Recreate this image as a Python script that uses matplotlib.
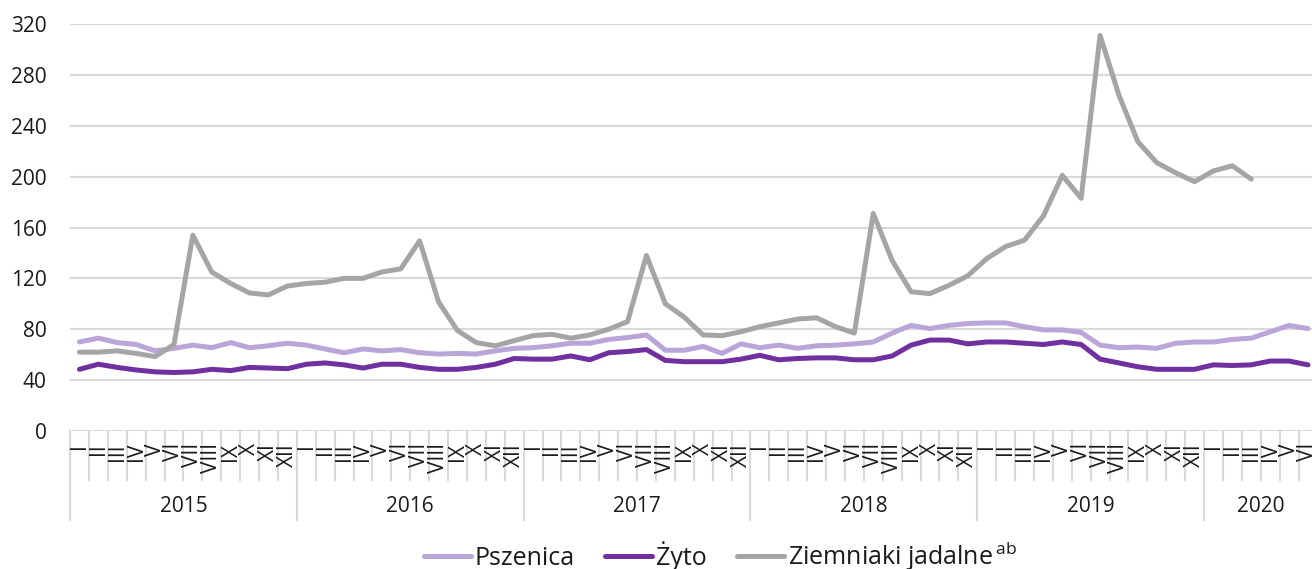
import matplotlib
matplotlib.use('Agg')
import matplotlib.pyplot as plt
from matplotlib.transforms import blended_transform_factory

plt.rcParams['font.family'] = ['Open Sans', 'DejaVu Sans']
plt.rcParams['mathtext.fontset'] = 'custom'
plt.rcParams['mathtext.rm'] = 'Open Sans'

years = ['2015', '2016', '2017', '2018', '2019', '2020']
months_per_year = [12, 12, 12, 12, 12, 6]
month_labels = ['I', 'II', 'III', 'IV', 'V', 'VI', 'VII', 'VIII', 'IX', 'X', 'XI', 'XII']

pszenica = [70, 73, 69.5, 68, 63, 65, 67.5, 65.5, 69.5, 65.5, 67, 69,
            67.5, 64.5, 61.5, 64.5, 63, 64, 61.5, 60.5, 61, 60.5, 63, 65,
            65.5, 67, 69, 69, 72, 73.5, 75.5, 63.5, 63.5, 66.5, 61, 68.5,
            65.5, 67.5, 65, 67, 67.5, 68.5, 70, 77, 83, 80.5, 83, 84.5,
            85, 85, 82, 79.5, 79.5, 77.5, 67.5, 65.5, 66, 65, 69, 70,
            70, 72, 73, 78, 83, 80.5]
zyto = [48.5, 52.5, 50, 48, 46.5, 46, 46.5, 48.5, 47.5, 50, 49.5, 49,
        52.5, 53.5, 52, 49.5, 52.5, 52.5, 50, 48.5, 48.5, 50, 52.5, 57,
        56.5, 56.5, 59, 56, 61.5, 62.5, 64, 55.5, 54.5, 54.5, 54.5, 56.5,
        59.5, 56, 57, 57.5, 57.5, 56, 56, 59, 67.5, 71.5, 71.5, 68.5,
        70, 70, 69, 68, 70, 68, 56.5, 53.5, 50.5, 48.5, 48.5, 48.5,
        52, 51.5, 52, 55, 55, 52]
ziemniaki = [62, 62, 63, 61, 58.5, 68, 154, 125, 116, 108.5, 107, 114,
             116, 117, 120, 120, 125, 127.5, 149.5, 101.5, 79, 69.5, 67, 71,
             75, 76, 73, 75.5, 80, 86, 138, 100, 89.5, 75.5, 75, 78,
             82, 85, 88, 89, 82, 77, 171, 134, 109.5, 108, 114.5, 122,
             135.5, 145, 150, 169, 201, 183, 311, 264, 227.5, 211, 203, 196,
             204.5, 208.5, 198]

c_psz = '#b9a5d8'
c_zyto = '#7030a0'
c_ziem = '#a5a5a5'
grid_c = '#d9d9d9'
txt_c = '#1a1a1a'

W, H = 1312, 569
fig = plt.figure(figsize=(W / 100, H / 100), dpi=100)
slot = 18.9
n = sum(months_per_year)
ax = fig.add_axes([70 / W, (H - 431) / H, n * slot / W, 407 / H])

x_all = list(range(n))
lw = 3.6
l1, = ax.plot(x_all[:len(pszenica)], pszenica, color=c_psz, lw=lw, solid_capstyle='round', solid_joinstyle='round')
l2, = ax.plot(x_all[:len(zyto)], zyto, color=c_zyto, lw=lw, solid_capstyle='round', solid_joinstyle='round')
l3, = ax.plot(x_all[:len(ziemniaki)], ziemniaki, color=c_ziem, lw=lw, solid_capstyle='round', solid_joinstyle='round')

ax.set_xlim(-0.5, n - 0.5)
ax.set_ylim(0, 320)
ax.set_yticks(range(0, 321, 40))
ax.tick_params(axis='y', length=0, pad=17, labelsize=15, labelcolor=txt_c)
ax.set_xticks([])
ax.yaxis.grid(True, color=grid_c, lw=1.5)
ax.set_axisbelow(True)
for s in ax.spines.values():
    s.set_visible(False)

tr = blended_transform_factory(ax.transData, ax.transAxes)
axh = 407.0
def fy(py):
    return (431 - py) / axh

# month separators and labels
k = 0
starts = []
for yi, (yr, nm) in enumerate(zip(years, months_per_year)):
    starts.append(k)
    for m in range(nm):
        idx = k + m
        ax.text(idx, fy(443), month_labels[m], rotation=90, ha='center', va='top',
                fontsize=15, color=txt_c, transform=tr, clip_on=False)
    k += nm
for b in range(n + 1):
    bottom = fy(520) if b in starts or b == n else fy(480)
    ax.plot([b - 0.5, b - 0.5], [0, bottom], color=grid_c, lw=1.5, transform=tr, clip_on=False)
for yr, st, nm in zip(years, starts, months_per_year):
    ax.text(st + (nm - 1) / 2, fy(507), yr, ha='center', va='center', fontsize=15,
            color=txt_c, transform=tr, clip_on=False)

leg = fig.legend([l1, l2, l3], ['Pszenica', 'Żyto', r'Ziemniaki jadalne$^{\,\mathrm{ab}}$'],
                 loc='center', bbox_to_anchor=(0.549, 0.022), ncol=3, frameon=False,
                 fontsize=18, handlelength=1.9, handletextpad=0.15, columnspacing=1.2,
                 borderaxespad=0, borderpad=0)
for t in leg.get_texts():
    t.set_color(txt_c)

fig.savefig('out.png', dpi=100)
